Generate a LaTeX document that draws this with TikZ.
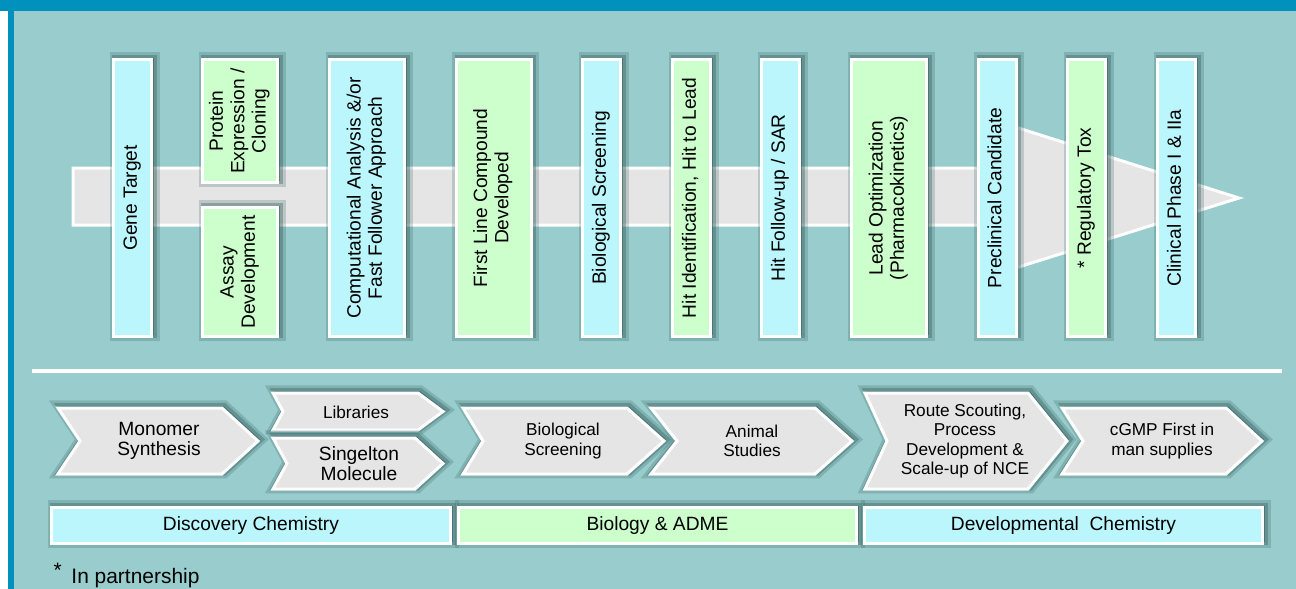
\documentclass[tikz,border=0pt]{standalone}
\usepackage{fontspec}
\setmainfont{Liberation Sans}
\usepackage{graphicx}
\usetikzlibrary{shadows}

\definecolor{topblue}{HTML}{0092BC}
\definecolor{panelteal}{HTML}{99CCCC}
\definecolor{boxcyan}{HTML}{BBF6FD}
\definecolor{boxgreen}{HTML}{CCFFCC}
\definecolor{bandgray}{HTML}{E5E5E5}
\definecolor{shadowteal}{HTML}{2F5858}

\newcommand{\vlabel}[1]{\rotatebox{90}{\begin{tabular}{@{}c@{}}#1\end{tabular}}}

\tikzset{every picture/.style={line width=0.75pt}}
\tikzset{
  softshadow/.style={
    general shadow={shadow xshift=1.5pt,shadow yshift=1.2pt,fill=shadowteal,draw=shadowteal,line width=9pt,opacity=0.22},
    general shadow={shadow xshift=1.5pt,shadow yshift=1.2pt,fill=shadowteal,draw=shadowteal,line width=5pt,opacity=0.35}},
  stage/.style={draw=white,line width=2.25pt,inner sep=0pt,softshadow,font=\fontsize{14.4}{16}\selectfont},
  narrowstage/.style={stage,minimum width=28.5pt,minimum height=207.75pt},
  widestage/.style={stage,minimum width=56.25pt,minimum height=207.75pt},
  chevron/.style={draw=white,line width=2.25pt,fill=bandgray,softshadow},
  chevtext/.style={align=center,inner sep=0.75pt,font=\fontsize{12.9}{14.4}\selectfont},
  bigchevtext/.style={align=center,inner sep=0.75pt,font=\fontsize{14.4}{15}\selectfont},
  area/.style={stage,minimum height=27pt}
}

\begin{document}
\begin{tikzpicture}[x=0.75pt,y=0.75pt,yscale=-1,xscale=1]
\useasboundingbox (0,0) rectangle (1296,589);

%Shape: Rectangle [background]
\fill[white] (0,0) rectangle (1296,589);
\fill[panelteal] (14,11) rectangle (1296,589);
\fill[topblue] (0,0) rectangle (1296,11);
\fill[topblue] (8,0) rectangle (14,589);

%Shape: Arrow [pipeline]
\draw[draw=white,line width=2.25pt,fill=bandgray] (73,168) -- (990,168) -- (990,119) -- (1239,198) -- (990,276) -- (990,225) -- (73,225) -- cycle ;

% Stage Nodes
\node[narrowstage,fill=boxcyan] (gene) at (132.5,198) {\vlabel{Gene Target}};
\node[stage,fill=boxgreen,minimum width=56.25pt,minimum height=92.25pt] (protein) at (240,121) {\vlabel{Protein\\Expression /\\Cloning}};
\node[stage,fill=boxgreen,minimum width=56.25pt,minimum height=96.75pt] (assay) at (240,272) {\vlabel{Assay\\Development}};
\node[widestage,fill=boxcyan] (computational) at (367,198) {\vlabel{Computational Analysis \&/or\\Fast Follower Approach}};
\node[widestage,fill=boxgreen] (firstline) at (493.5,198) {\vlabel{First Line Compound\\Developed}};
\node[narrowstage,fill=boxcyan] (bioscreen) at (601.5,198) {\vlabel{Biological Screening}};
\node[narrowstage,fill=boxgreen] (hitid) at (691.5,198) {\vlabel{Hit Identification, Hit to Lead}};
\node[narrowstage,fill=boxcyan] (hitfollow) at (780.5,198) {\vlabel{Hit Follow-up / SAR}};
\node[widestage,fill=boxgreen] (leadopt) at (889,198) {\vlabel{Lead Optimization\\(Pharmacokinetics)}};
\node[narrowstage,fill=boxcyan] (preclinical) at (997,198) {\vlabel{Preclinical Candidate}};
\node[narrowstage,fill=boxgreen] (regtox) at (1086.5,198) {\vlabel{* Regulatory Tox}};
\node[narrowstage,fill=boxcyan] (clinical) at (1176.5,198) {\vlabel{Clinical Phase I \& IIa}};

%Straight Lines [separator]
\draw[white,line width=3pt] (32,370.5) -- (1282,370.5) ;

%Shape: Chevron [monomer]
\draw[chevron] (58,408) -- (222,408) -- (258,441) -- (222,474) -- (58,474) -- (80,441) -- cycle ;
%Shape: Chevron [libraries]
\draw[chevron] (273,393) -- (418,393) -- (443,411.5) -- (418,430) -- (273,430) -- (283,411.5) -- cycle ;
%Shape: Chevron [singelton]
\draw[chevron] (273,438) -- (415,438) -- (443,463.5) -- (415,489) -- (273,489) -- (287,463.5) -- cycle ;
%Shape: Chevron [screening]
\draw[chevron] (463,408) -- (627,408) -- (664,441) -- (627,474) -- (463,474) -- (483,441) -- cycle ;
%Shape: Chevron [animal]
\draw[chevron] (651,408) -- (815,408) -- (852,441) -- (815,474) -- (651,474) -- (677,441) -- cycle ;
%Shape: Chevron [route]
\draw[chevron] (865,393) -- (1028,393) -- (1067,441) -- (1028,489) -- (865,489) -- (887,441) -- cycle ;
%Shape: Chevron [cgmp]
\draw[chevron] (1062,408) -- (1226,408) -- (1262,441) -- (1226,474) -- (1062,474) -- (1083,441) -- cycle ;

% Text Node
\node[bigchevtext] (monomer) at (159,441) {Monomer\\Synthesis};
% Text Node
\node[chevtext] (libraries) at (356,412) {Libraries};
% Text Node
\node[bigchevtext] (singelton) at (359,464) {Singelton\\Molecule};
% Text Node
\node[chevtext] (screening) at (563,441) {Biological\\Screening};
% Text Node
\node[chevtext] (animal) at (752,441) {Animal\\Studies};
% Text Node
\node[chevtext] (route) at (965,441) {Route Scouting,\\Process\\Development \&\\Scale-up of NCE};
% Text Node
\node[chevtext] (cgmp) at (1162,441) {cGMP First in\\man supplies};

% Area Nodes
\node[area,fill=boxcyan,minimum width=299.25pt] (discovery) at (251,525.5) {Discovery Chemistry};
\node[area,fill=boxgreen,minimum width=298.5pt] (biology) at (657.5,525.5) {Biology \& ADME};
\node[area,fill=boxcyan,minimum width=298.5pt] (developmental) at (1063.5,525.5) {Developmental\ \ Chemistry};

% Text Node
\node[anchor=base west,inner sep=0pt,font=\fontsize{15.7}{18}\selectfont] (note) at (53,583) {\raisebox{4pt}{*}\hspace{3pt} In partnership};

\end{tikzpicture}
\end{document}
